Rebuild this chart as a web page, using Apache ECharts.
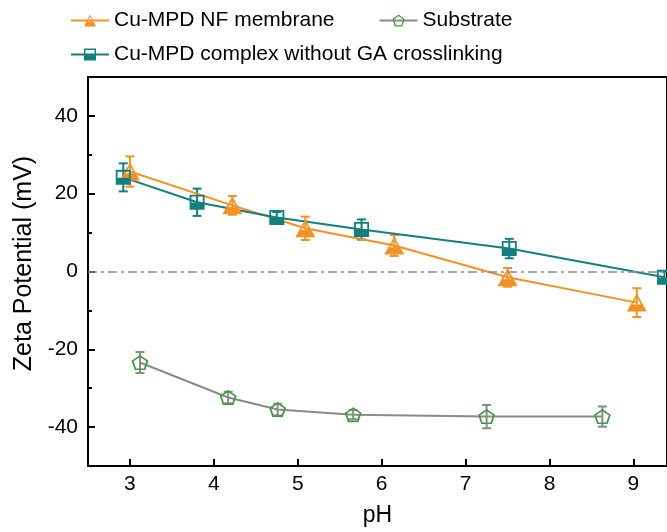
<!DOCTYPE html>
<html>
<head>
<meta charset="utf-8">
<script src="https://cdn.jsdelivr.net/npm/echarts@6/dist/echarts.min.js"></script>
<style>html,body{margin:0;padding:0;background:#fff}#c{width:667px;height:532px}</style>
</head>
<body>
<div id="c"></div>
<script>
// ---- data ----
var nfPH   = [3.0, 4.22, 5.09, 6.15, 7.5, 9.04];
var nfZeta = [25.7, 17.0, 11.1, 6.7, -1.5, -8.0];
var nfErr  = [3.9, 2.4, 3.0, 2.7, 2.4, 3.7];

var cxPH   = [2.92, 3.8, 4.75, 5.76, 7.52, 9.37];
var cxZeta = [24.2, 17.8, 13.9, 10.8, 5.9, -1.5];
var cxErr  = [3.6, 3.5, 1.4, 2.6, 2.5, 1.5];

var subPH   = [3.12, 4.17, 4.76, 5.66, 7.25, 8.63];
var subZeta = [-23.4, -32.4, -35.5, -36.8, -37.3, -37.3];
var subErr  = [2.7, 1.5, 1.5, 1.2, 3.0, 2.6];

var xTicks = [3, 4, 5, 6, 7, 8, 9];
var yTicks = [-40, -20, 0, 20, 40];
var yMinorTicks = [-50, -30, -10, 10, 30, 50];

var names = ['Cu-MPD NF membrane', 'Substrate', 'Cu-MPD complex without GA crosslinking'];

var ORANGE = '#F39222', TEAL = '#13807F', GRAY = '#8A8A8A', GREEN = '#3E9B3E';

// half-filled symbols (ring + bottom fill), drawn as one path with holes
var triPath = 'path://M50 0L100 100L0 100Z M50 19L29 60L71 60Z';
var sqPath  = 'path://M0 0L100 0L100 100L0 100Z M12 12L12 52L88 52L88 12Z';
var penPath = 'path://M50 0L100 38L81 100L19 100L0 38Z M50 13L12 41L27 89L73 89L88 41Z';

function pairs(xs, ys) { return xs.map(function (x, i) { return [x, ys[i]]; }); }
function triples(xs, ys, es) { return xs.map(function (x, i) { return [x, ys[i], es[i]]; }); }

function errBar(color) {
  return function (params, api) {
    var x = api.value(0), y = api.value(1), e = api.value(2);
    var top = api.coord([x, y + e]);
    var bot = api.coord([x, y - e]);
    var cap = 4.5;
    var st = { stroke: color, lineWidth: 2 };
    return {
      type: 'group',
      children: [
        { type: 'line', shape: { x1: top[0], y1: top[1], x2: bot[0], y2: bot[1] }, style: st },
        { type: 'line', shape: { x1: top[0] - cap, y1: top[1], x2: top[0] + cap, y2: top[1] }, style: st },
        { type: 'line', shape: { x1: bot[0] - cap, y1: bot[1], x2: bot[0] + cap, y2: bot[1] }, style: st }
      ]
    };
  };
}

var chart = echarts.init(document.getElementById('c'), null, { renderer: 'canvas' });
var FONT = 'Liberation Sans, Arial, sans-serif';

chart.setOption({
  animation: false,
  backgroundColor: '#fff',
  textStyle: { fontFamily: FONT },
  legend: [
    {
      left: 65, top: 5, itemWidth: 38, itemHeight: 15, itemGap: 44,
      data: [names[0], names[1]],
      textStyle: { fontSize: 21, color: '#000', fontFamily: FONT }
    },
    {
      left: 65, top: 39, itemWidth: 38, itemHeight: 15,
      data: [names[2]],
      textStyle: { fontSize: 21, color: '#000', fontFamily: FONT }
    }
  ],
  grid: {
    left: 88, right: -2, top: 77, bottom: 66,
    show: true, borderColor: '#000', borderWidth: 2, containLabel: false
  },
  xAxis: {
    type: 'value', min: 2.5, max: 9.4,
    name: 'pH', nameLocation: 'middle', nameGap: 38,
    nameTextStyle: { fontSize: 23, color: '#000', fontFamily: FONT },
    axisLine: { show: true, onZero: false, lineStyle: { color: '#000', width: 2 } },
    axisTick: { show: true, inside: true, length: 7, customValues: xTicks, lineStyle: { color: '#000', width: 2 } },
    axisLabel: { customValues: xTicks, fontSize: 21, color: '#000', margin: 8, fontFamily: FONT },
    splitLine: { show: false }
  },
  yAxis: [
    {
      type: 'value', min: -50, max: 50,
      name: 'Zeta Potential (mV)', nameLocation: 'middle', nameGap: 42,
      nameTextStyle: { fontSize: 25, color: '#000', fontFamily: FONT, padding: [0, 0, 0, 16] },
      axisLine: { show: true, onZero: false, lineStyle: { color: '#000', width: 2 } },
      axisTick: { show: true, inside: true, length: 7, customValues: yTicks, lineStyle: { color: '#000', width: 2 } },
      axisLabel: { customValues: yTicks, fontSize: 21, color: '#000', margin: 10, fontFamily: FONT },
      splitLine: { show: false }
    },
    {
      type: 'value', min: -50, max: 50, position: 'left',
      axisLine: { show: false, onZero: false },
      axisTick: { show: true, inside: true, length: 4, customValues: yMinorTicks, lineStyle: { color: '#000', width: 2 } },
      axisLabel: { show: false },
      splitLine: { show: false }
    }
  ],
  series: [
    {
      type: 'custom', name: 'nfErr', z: 1, renderItem: errBar(ORANGE),
      data: triples(nfPH, nfZeta, nfErr), encode: { x: 0, y: 1 }, silent: true
    },
    {
      type: 'custom', name: 'cxErr', z: 1, renderItem: errBar(TEAL),
      data: triples(cxPH, cxZeta, cxErr), encode: { x: 0, y: 1 }, silent: true
    },
    {
      type: 'custom', name: 'subErr', z: 1, renderItem: errBar(GRAY),
      data: triples(subPH, subZeta, subErr), encode: { x: 0, y: 1 }, silent: true
    },
    {
      type: 'line', name: names[0], z: 3,
      data: pairs(nfPH, nfZeta),
      symbol: triPath, symbolSize: [20, 18],
      itemStyle: { color: ORANGE },
      lineStyle: { color: ORANGE, width: 2 }
    },
    {
      type: 'line', name: names[1], z: 3,
      data: pairs(subPH, subZeta),
      symbol: penPath, symbolSize: [17, 15],
      itemStyle: { color: GREEN },
      lineStyle: { color: GRAY, width: 2 },
      markLine: {
        silent: true, symbol: 'none', label: { show: false },
        lineStyle: { color: '#8C8C8C', width: 1.5, type: [9, 4, 3, 4] },
        data: [{ yAxis: 0 }]
      }
    },
    {
      type: 'line', name: names[2], z: 3,
      data: pairs(cxPH, cxZeta),
      symbol: sqPath, symbolSize: [15, 15],
      itemStyle: { color: TEAL },
      lineStyle: { color: TEAL, width: 2 }
    }
  ]
});
</script>
</body>
</html>
